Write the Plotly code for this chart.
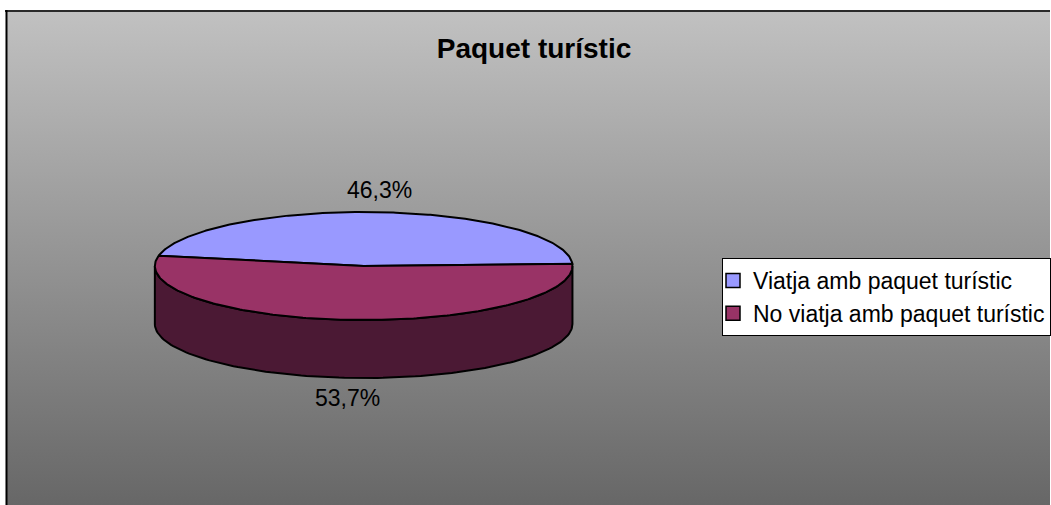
import numpy as np
import plotly.graph_objects as go

# ---- data ----
categories = ["Viatja amb paquet turístic", "No viatja amb paquet turístic"]
values = [46.3, 53.7]
label_texts = ["46,3%", "53,7%"]
title_text = "Paquet turístic"

# ---- style / layout constants ----
top_colors = ["#9999FF", "#993366"]
side_colors = ["#4D4D80", "#4B1934"]
W, H = 1051, 505
CX, CY = 364.0, 266.0      # ellipse centre (pixels)
RA, RB = 209.0, 54.0       # semi-axes
DEPTH = 58.0               # pie thickness
FIRST_ANGLE = 281.0        # first slice angle, clockwise from 12 o'clock
FONT = "Arial, Liberation Sans, sans-serif"
LEG_TOP = 258

fig = go.Figure()

# background gradient panel
fig.add_trace(go.Scatter(
    x=[6, W + 5, W + 5, 6, 6], y=[11, 11, H + 5, H + 5, 11],
    mode="lines", fill="toself", line=dict(width=0, color="rgba(0,0,0,0)"),
    fillgradient=dict(type="vertical", start=11, stop=H,
                      colorscale=[[0, "#C1C1C1"], [1, "#676767"]]),
    showlegend=False, hoverinfo="skip"))

total = float(sum(values))
start_math = 90.0 - FIRST_ANGLE  # math angle (deg, counterclockwise from +x)
spans = []
a0 = start_math
for v in values:
    a1 = a0 - v / total * 360.0   # slices go clockwise
    spans.append((a1, a0))
    a0 = a1


def ell(theta_deg, dz=0.0):
    t = np.radians(theta_deg)
    return CX + RA * np.cos(t), CY - RB * np.sin(t) + dz


# side walls (front half: math angles in [-180, 0] mod 360)
for i, (lo, hi) in enumerate(spans):
    for k in (-2, -1, 0, 1):
        s_lo = max(lo, -180.0 + 360.0 * k)
        s_hi = min(hi, 0.0 + 360.0 * k)
        if s_hi - s_lo > 0.01:
            th = np.linspace(s_lo, s_hi, 120)
            xt, yt = ell(th)
            xb, yb = ell(th[::-1], DEPTH)
            xs = np.concatenate([xt, xb, xt[:1]])
            ys = np.concatenate([yt, yb, yt[:1]])
            fig.add_trace(go.Scatter(
                x=xs, y=ys, mode="lines", fill="toself",
                fillcolor=side_colors[i], line=dict(color="black", width=2),
                showlegend=False, hoverinfo="skip"))

# top faces
for i, (lo, hi) in enumerate(spans):
    th = np.linspace(hi, lo, 240)
    xa, ya = ell(th)
    xs = np.concatenate([[CX], xa, [CX]])
    ys = np.concatenate([[CY], ya, [CY]])
    fig.add_trace(go.Scatter(
        x=xs, y=ys, mode="lines", fill="toself",
        fillcolor=top_colors[i], line=dict(color="black", width=2),
        showlegend=False, hoverinfo="skip"))

# data labels
for i, (lo, hi) in enumerate(spans):
    mid = np.radians((lo + hi) / 2.0)
    s = np.sin(mid)
    lx = CX + RA * np.cos(mid)
    if s >= 0:
        ly = CY - RB * s - 22
    else:
        ly = CY - RB * s + DEPTH + 20
    fig.add_annotation(x=lx, y=ly, xref="x", yref="y", text=label_texts[i],
                       showarrow=False, font=dict(family=FONT, size=23, color="black"),
                       xanchor="center", yanchor="middle")

# legend entries
for i, c in enumerate(categories):
    fig.add_trace(go.Scatter(
        x=[None], y=[None], mode="markers", name=c,
        marker=dict(symbol="square", size=14, color=top_colors[i],
                    line=dict(color="black", width=1.5))))

# legend shadow
fig.add_shape(type="rect", xref="x", yref="y", x0=726, x1=W + 10,
              y0=LEG_TOP + 4, y1=LEG_TOP + 78,
              line=dict(width=0), fillcolor="#3C3C3C", layer="above")

# frame lines
fig.add_shape(type="line", xref="x", yref="y", x0=5, x1=W + 5, y0=11, y1=11,
              line=dict(color="#2A2A2A", width=2))
fig.add_shape(type="line", xref="x", yref="y", x0=6.5, x1=6.5, y0=10, y1=H + 5,
              line=dict(color="black", width=2))

fig.update_layout(
    width=W, height=H,
    margin=dict(l=0, r=0, t=0, b=0),
    paper_bgcolor="white", plot_bgcolor="white",
    xaxis=dict(range=[0, W], visible=False, fixedrange=True),
    yaxis=dict(range=[H, 0], visible=False, fixedrange=True),
    title=dict(text="<b>" + title_text + "</b>", x=534 / W, y=1 - 48 / H,
               xanchor="center", yanchor="middle",
               font=dict(family=FONT, size=28, color="black")),
    legend=dict(x=723 / W, y=1 - LEG_TOP / H, xanchor="left", yanchor="top",
                bgcolor="white", bordercolor="black", borderwidth=1,
                font=dict(family=FONT, size=23, color="black"),
                itemwidth=30, tracegroupgap=0, indentation=-10),
    showlegend=True,
    hovermode=False,
)

fig.write_html("out.html",
               config={"displayModeBar": False, "staticPlot": True},
               post_script="document.body.style.margin='0px';"
                           "document.body.style.overflow='hidden';")
